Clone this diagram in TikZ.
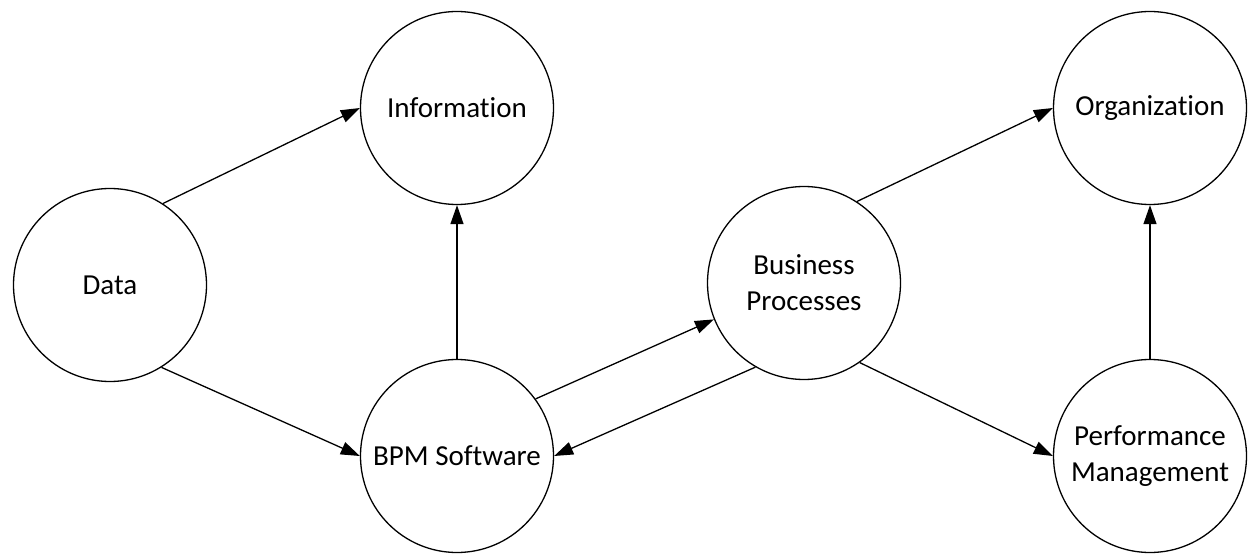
\documentclass[tikz,border=0pt]{standalone}
\usepackage{fontspec}
\setmainfont{Carlito}[Ligatures=NoCommon]
\usetikzlibrary{arrows.meta}
\begin{document}
\begin{tikzpicture}[x=1pt,y=-1pt,
  circ/.style={draw=black, line width=1.3pt, circle, minimum size=193pt, inner sep=0pt,
    align=center, font=\fontsize{29}{36}\selectfont},
  conn/.style={draw=black, line width=1.3pt, -{Triangle[length=19pt,width=13pt]}}]
\useasboundingbox (0,0) rectangle (1248,556);
\node[circ] (data) at (110,285) {Data};
\node[circ] (info) at (457,108) {Informat\kern0pt ion};
\node[circ] (bpm) at (457,456) {BPM Software};
\node[circ] (bp) at (804,283) {Business\\Processes};
\node[circ] (org) at (1150,108) {Organizat\kern0pt ion};
\node[circ] (pm) at (1150,456) {Performance\\Management};
\draw[conn] (data.57) -- (info.180);
\draw[conn] (data.-58) -- (bpm.180);
\draw[conn] (bpm.90) -- (info.270);
\draw[conn] (bpm.36) -- (bp.202);
\draw[conn] (bp.240) -- (bpm.0);
\draw[conn] (bp.57) -- (org.180);
\draw[conn] (bp.-55) -- (pm.180);
\draw[conn] (pm.90) -- (org.270);
\end{tikzpicture}
\end{document}
